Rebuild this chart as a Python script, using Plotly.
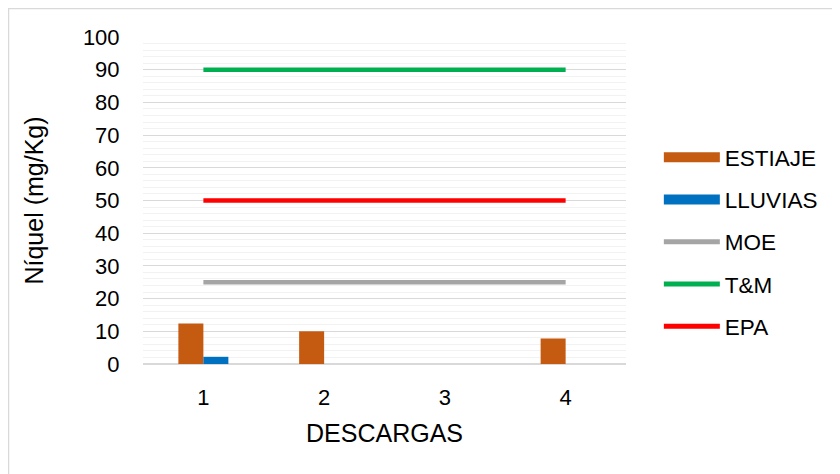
import plotly.graph_objects as go

descargas = [1, 2, 3, 4]
estiaje = [12.4, 10.0, 0, 7.8]
lluvias = [2.2, 0, 0, 0]
moe = [25, 25, 25, 25]
tm = [90, 90, 90, 90]
epa = [50, 50, 50, 50]

ORANGE = "#C55A11"
BLUE = "#0070C0"
GRAY = "#A5A5A5"
GREEN = "#00B050"
RED = "#FF0000"
FONT = "Liberation Sans, Arial, sans-serif"

fig = go.Figure()

# bars (legend drawn with wide swatches below)
fig.add_trace(go.Bar(x=descargas, y=estiaje, name="ESTIAJE", marker_color=ORANGE,
                     marker_line_width=0, showlegend=False))
fig.add_trace(go.Bar(x=descargas, y=lluvias, name="LLUVIAS", marker_color=BLUE,
                     marker_line_width=0, showlegend=False))

for name, vals, color in [("MOE", moe, GRAY), ("T&M", tm, GREEN), ("EPA", epa, RED)]:
    fig.add_trace(go.Scatter(x=descargas, y=vals, mode="lines", name=name,
                             line=dict(color=color, width=4.5), showlegend=False))

# legend entries
legend_items = [("ESTIAJE", ORANGE, 11), ("LLUVIAS", BLUE, 11),
                ("MOE", GRAY, 5), ("T&M", GREEN, 5), ("EPA", RED, 5)]
for name, color, w in legend_items:
    fig.add_trace(go.Scatter(x=[None], y=[None], mode="lines", name=name,
                             legendgroup=name, line=dict(color=color, width=w)))

# page body has an 8px margin, so margins are offset by 8px
fig.update_layout(
    width=840,
    height=474,
    barmode="group",
    bargap=0.586,
    bargroupgap=0,
    plot_bgcolor="white",
    paper_bgcolor="white",
    font=dict(family=FONT, size=22, color="black"),
    margin=dict(l=135, r=222, t=29, b=118),
    legend=dict(
        x=1.068, y=0.373, xanchor="left", yanchor="middle",
        traceorder="grouped", tracegroupgap=10, itemwidth=56,
        font=dict(size=22.5, family=FONT),
    ),
    shapes=[dict(type="rect", xref="paper", yref="paper",
                 x0=-0.2785, x1=1.6, y0=-0.6, y1=1.087,
                 line=dict(color="#D9D9D9", width=1.5), layer="below")],
)

fig.update_xaxes(
    range=[0.5, 4.5],
    tickvals=descargas,
    showgrid=False,
    zeroline=False,
    showline=False,
    ticks="outside", ticklen=14, tickcolor="rgba(0,0,0,0)",
    title=dict(text="DESCARGAS", font=dict(size=25), standoff=15),
)
fig.update_yaxes(
    range=[0, 100],
    dtick=10,
    showgrid=True, gridcolor="#D9D9D9", gridwidth=1.3,
    minor=dict(dtick=2, showgrid=True, gridcolor="#F2F2F2", gridwidth=1.3),
    zeroline=True, zerolinecolor="#D9D9D9", zerolinewidth=1.5,
    ticks="outside", ticklen=18, tickcolor="rgba(0,0,0,0)",
    title=dict(text="Níquel (mg/Kg)", font=dict(size=25), standoff=32),
)

fig.write_html("out.html")
